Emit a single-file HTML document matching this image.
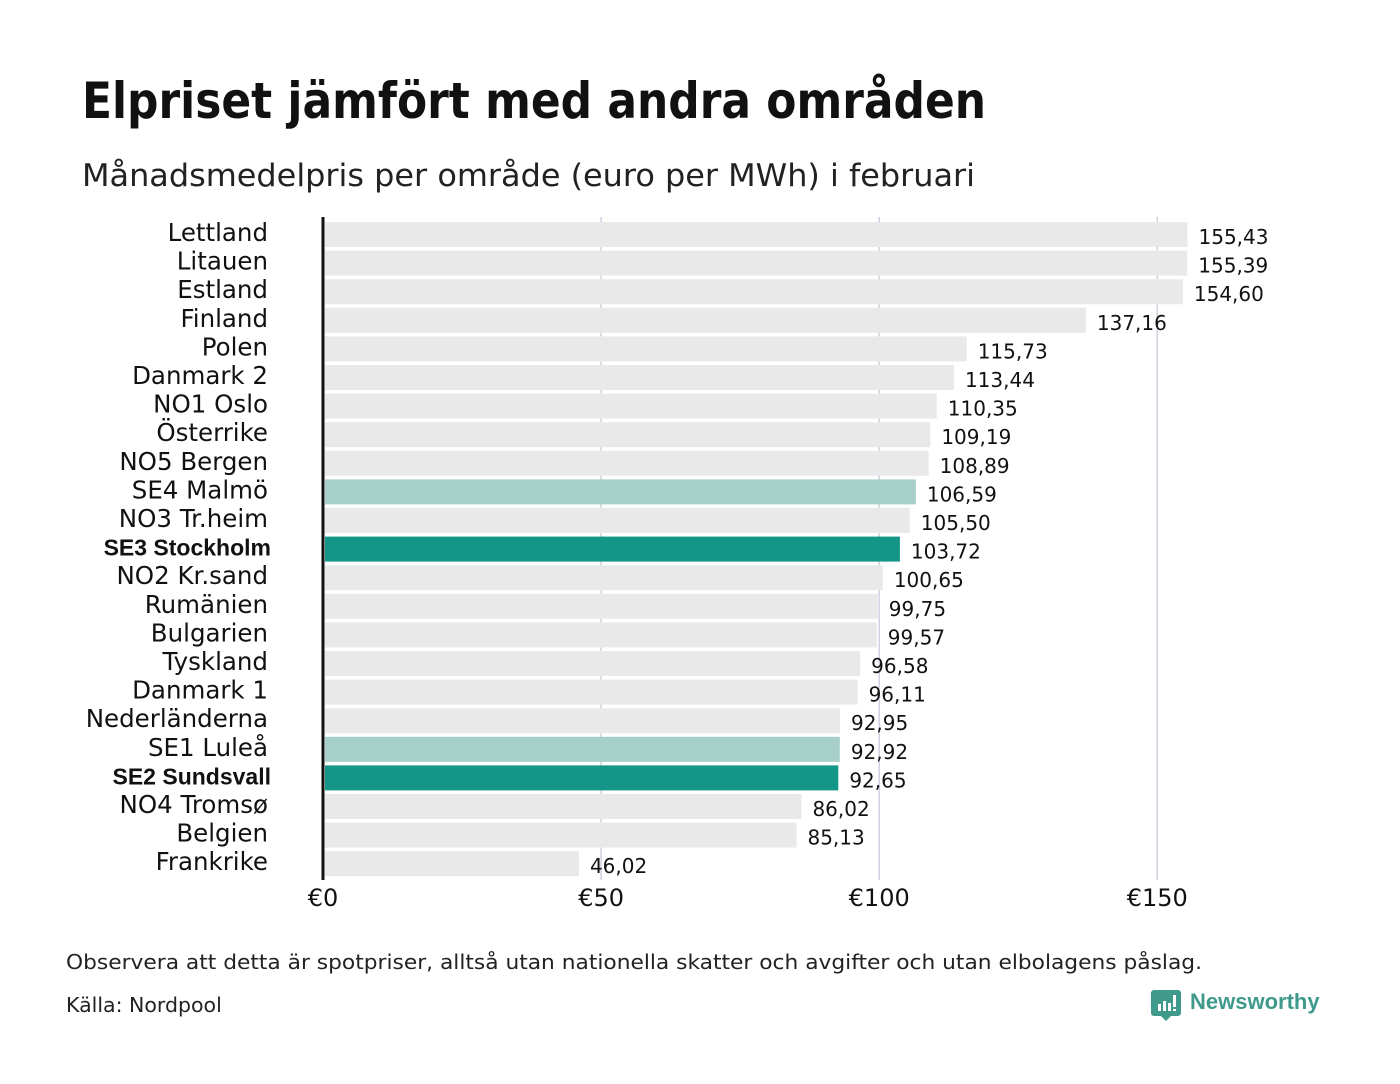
<!DOCTYPE html>
<html><head><meta charset="utf-8"><style>
body{margin:0;background:#fff;width:1400px;height:1080px;overflow:hidden;font-family:"DejaVu Sans","Liberation Sans",sans-serif}
</style></head><body>
<svg width="1400" height="1080" xmlns="http://www.w3.org/2000/svg" id="chart">
<text x="82" y="118" font-size="50" font-weight="bold" fill="#111" font-family="DejaVu Sans, sans-serif" textLength="904" lengthAdjust="spacingAndGlyphs">Elpriset jämfört med andra områden</text>
<text x="82" y="186" font-size="31" fill="#222" textLength="893" lengthAdjust="spacingAndGlyphs">Månadsmedelpris per område (euro per MWh) i februari</text>
<g id="grid"></g>
<g id="bars"></g>
<line x1="323" y1="217" x2="323" y2="880" stroke="#111" stroke-width="3"/>
<g id="ticks"></g>
<text x="66" y="969" font-size="20.5" fill="#222" textLength="1136" lengthAdjust="spacingAndGlyphs">Observera att detta är spotpriser, alltså utan nationella skatter och avgifter och utan elbolagens påslag.</text>
<text x="66" y="1012" font-size="20.5" fill="#222">Källa: Nordpool</text>
<g>
<path d="M1154 990 h24 a3 3 0 0 1 3 3 v20 a3 3 0 0 1 -3 3 h-7 l-5 5 l-5 -5 h-7 a3 3 0 0 1 -3 -3 v-20 a3 3 0 0 1 3 -3z" fill="#3f9a8c"/>
<rect x="1158" y="1004" width="3" height="7" fill="#fff"/><rect x="1163" y="1001" width="3" height="10" fill="#fff"/><rect x="1168" y="1003" width="3" height="8" fill="#fff"/><rect x="1173" y="995" width="3" height="12" fill="#fff"/><rect x="1173" y="1009" width="3" height="2" fill="#fff"/>
<text x="1190" y="1009" font-size="22" font-weight="bold" fill="#3f9a8c" font-family="Liberation Sans, sans-serif">Newsworthy</text>
</g>
</svg>
<script>
const categories=["Lettland","Litauen","Estland","Finland","Polen","Danmark 2","NO1 Oslo","Österrike","NO5 Bergen","SE4 Malmö","NO3 Tr.heim","SE3 Stockholm","NO2 Kr.sand","Rumänien","Bulgarien","Tyskland","Danmark 1","Nederländerna","SE1 Luleå","SE2 Sundsvall","NO4 Tromsø","Belgien","Frankrike"];
const values=[155.43,155.39,154.60,137.16,115.73,113.44,110.35,109.19,108.89,106.59,105.50,103.72,100.65,99.75,99.57,96.58,96.11,92.95,92.92,92.65,86.02,85.13,46.02];
const highlight=["none","none","none","none","none","none","none","none","none","light","none","dark","none","none","none","none","none","none","light","dark","none","none","none"];
const tickValues=[0,50,100,150];
const tickLabels=["€0","€50","€100","€150"];
const NS="http://www.w3.org/2000/svg";
const x=v=>323+v*5.562;
const y=i=>222+i*28.6;
function mk(t,a,p){const e=document.createElementNS(NS,t);for(const k in a)e.setAttribute(k,a[k]);p.appendChild(e);return e;}
const grid=document.getElementById('grid'),bars=document.getElementById('bars'),ticks=document.getElementById('ticks');
tickValues.forEach((v,i)=>{
 if(v>0){const g=mk('line',{x1:x(v),x2:x(v),y1:217,y2:880,stroke:'#d0d0e0','stroke-width':1.5},grid);
 
 }
 const t=mk('text',{x:x(v),y:906,'font-size':24,'text-anchor':'middle',fill:'#111'},ticks);
 t.textContent=tickLabels[i];
 
 
});
categories.forEach((c,i)=>{
 const col=highlight[i]==='dark'?'#139587':highlight[i]==='light'?'#a6cfc9':'#e9e9e9';
 const r=mk('rect',{x:325,y:y(i),width:x(values[i])-325,height:25,fill:col},bars);
 
 
 const bold=highlight[i]==='dark';
 const l=mk('text',{x:bold?271:268,y:y(i)+19,'font-size':bold?23:24.5,'text-anchor':'end',fill:'#111','font-weight':bold?'bold':'normal','font-family':bold?'Liberation Sans, sans-serif':'DejaVu Sans, sans-serif'},bars);
 l.textContent=c;
 
 
 const vt=mk('text',{x:x(values[i])+11,y:y(i)+22,'font-size':20,fill:'#111'},bars);
 vt.textContent=values[i].toFixed(2).replace('.',',');
 
 
});
</script>
</body></html>
